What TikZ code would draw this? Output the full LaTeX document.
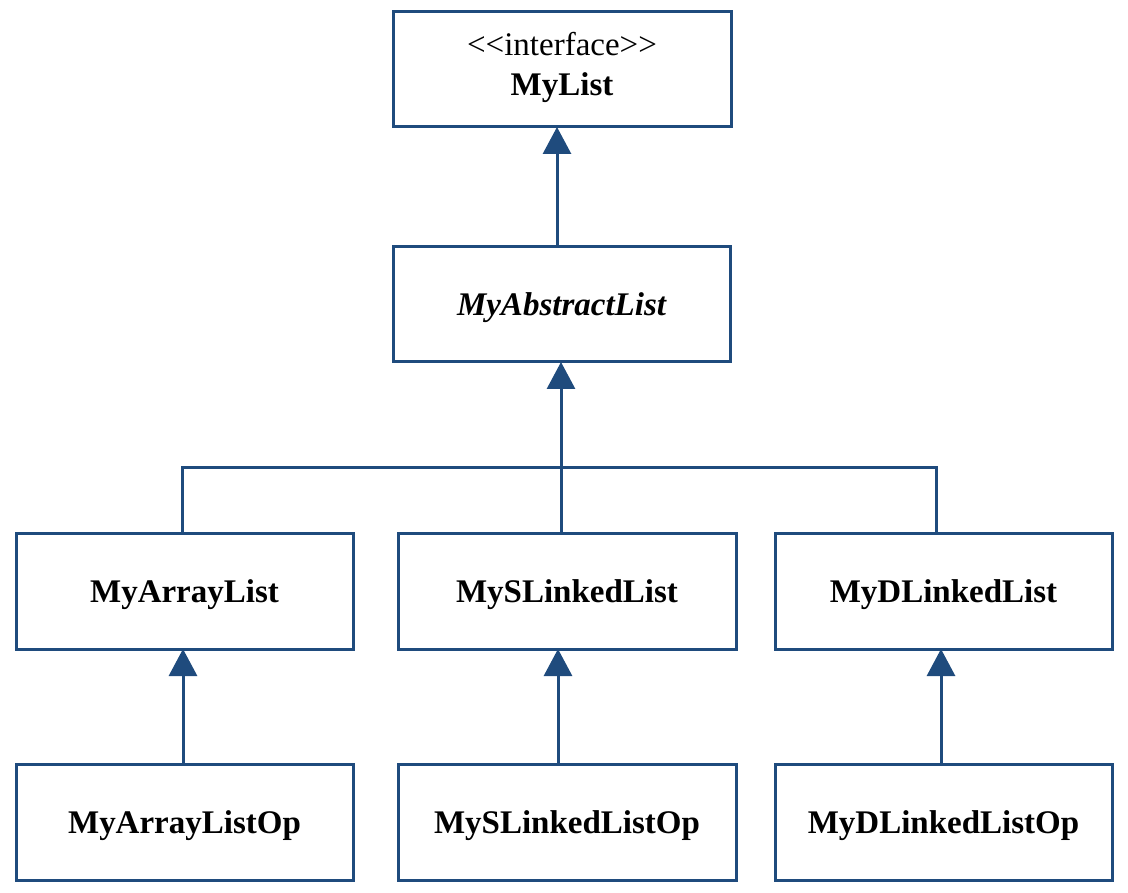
\documentclass[tikz,border=0pt]{standalone}
\usepackage{fontspec}
\setmainfont{Liberation Serif}
\usetikzlibrary{arrows.meta}
\definecolor{umlblue}{HTML}{1F4B7D}
\begin{document}
\begin{tikzpicture}[x=1pt,y=-1pt,
  cls/.style={draw=umlblue,line width=3pt,fill=white,minimum width=337pt,minimum height=115pt,
    inner sep=0pt,outer sep=0pt,align=center,font=\fontsize{33}{40}\selectfont\bfseries},
  one/.style={text depth=0pt},
  conn/.style={draw=umlblue,line width=3pt},
  inh/.style={conn,-{Triangle[width=28pt,length=27pt]}}]
\useasboundingbox (0,0) rectangle (1128,893);
\node[cls,minimum width=338pt] (mylist) at (562,69.5) {};
\node[align=center,inner sep=0pt,font=\fontsize{33}{40}\selectfont\bfseries] (mylisttext) at (562,67) {\mdseries <\kern0pt<interface>\kern0pt>\\MyList};
\node[cls,one] (abs) at (561.5,304.5) {\itshape MyAbstractList};
\node[cls,one,minimum height=116pt] (arr) at (184.5,591) {MyArrayList};
\node[cls,one,minimum width=338pt,minimum height=116pt] (sl) at (567,591) {MySLinkedList};
\node[cls,one,minimum height=116pt] (dl) at (943.5,591) {MyDLinkedList};
\node[cls,one,minimum height=116pt] (arrop) at (184.5,822) {MyArrayListOp};
\node[cls,one,minimum width=338pt,minimum height=116pt] (slop) at (567,822) {MySLinkedListOp};
\node[cls,one,minimum height=116pt] (dlop) at (943.5,822) {MyDLinkedListOp};
\coordinate (x1) at (557,0);
\coordinate (xm) at (561,0);
\coordinate (xl) at (182,0);
\coordinate (xr) at (936,0);
\coordinate (xla) at (183,0);
\coordinate (xma) at (558,0);
\coordinate (xra) at (941,0);
\coordinate (barl) at (182,467);
\coordinate (barr) at (936,467);
\draw[inh] (abs.north -| x1) -- (mylist.south -| x1);
\draw[inh] (sl.north -| xm) -- (abs.south -| xm);
\draw[conn] (arr.north -| xl) -- (barl) -- (barr) -- (dl.north -| xr);
\draw[inh] (arrop.north -| xla) -- (arr.south -| xla);
\draw[inh] (slop.north -| xma) -- (sl.south -| xma);
\draw[inh] (dlop.north -| xra) -- (dl.south -| xra);
\end{tikzpicture}
\end{document}
